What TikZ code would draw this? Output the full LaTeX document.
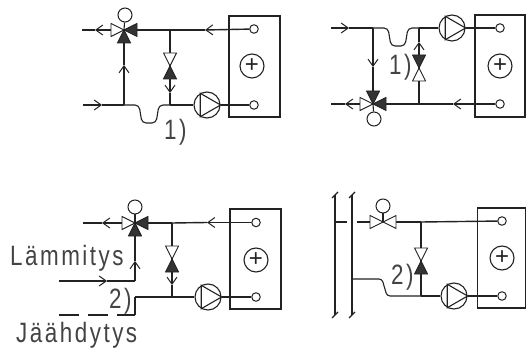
\documentclass[tikz,border=0pt]{standalone}
\usepackage{fontspec}
\setmainfont{Liberation Sans}
\newfontfamily\labelfont[FakeStretch=0.8,LetterSpace=9]{Liberation Sans}
\usetikzlibrary{arrows.meta}
\definecolor{ink}{HTML}{222222}
\definecolor{darkwedge}{HTML}{333333}
\tikzset{
   pipe/.style={line width=1.4pt, color=ink},
   heavypipe/.style={line width=2pt, color=ink},
   thinpipe/.style={line width=1.1pt, color=ink},
   flowpipe/.style={pipe, -{Straight Barb[length=7pt,width=10pt,line width=1pt]}},
   flowthin/.style={thinpipe, -{Straight Barb[length=7pt,width=10pt,line width=1pt]}},
   port/.style={draw=ink, line width=1pt, circle, fill=white, inner sep=0pt, minimum size=8.5pt},
   actuator/.style={draw=ink, line width=1pt, circle, fill=white, inner sep=0pt, minimum size=14pt},
   pump/.style={draw=ink, line width=1.1pt, circle, fill=white, inner sep=0pt, minimum size=26pt},
   plusmark/.style={draw=ink, line width=1.1pt, circle, inner sep=0pt, minimum size=24pt, text=ink, font=\fontsize{24}{24}\selectfont},
   unitbox/.style={draw=ink, line width=1.1pt, inner sep=0pt},
   label/.style={text=ink!85, inner sep=0pt, anchor=base west, font=\labelfont\fontsize{28}{32}\selectfont}
}
\begin{document}
\begin{tikzpicture}[x=1pt, y=-1pt]
   \useasboundingbox (0,0) rectangle (526,352);
   \def \Joints {
      av/124/30, al/82/30, at1/95/30, at2/205/30, aj/170/30, ab/170/105, ac/124/105,
      ai/83/105, at3/102/105, at4/124/65, at5/170/93,
      bv/373/104, bl/331/104, bt1/345/104, bt2/453/104, bj/419/104, bb/419/28, bc/373/28,
      bi/331/28, bt3/349/28, bt4/373/67, bt5/419/42,
      cv/135/223, cl/83/223, ct1/102/223, ct2/207/222.5, cj/172/223, cb/172/297, cc/135/297,
      cm/135/281, ci/59/281, ct3/107/281, ct4/135/261, ct5/172/285, cd/135/315, ce/59/315,
      dv/383/222, dj/421/222, db/421/296, dr/352/279,
      ds1/335/222, ds2/347/222, ds3/357/222,
      dw1/335/195, dw2/335/315, dw3/352/195, dw4/352/315}
   \def \Units {
      a/254.5/66.5/51/101/252/66,
      b/500/66/50/102/500/66,
      c/255.5/259/51/100/256/260,
      d/501.5/258/48.5/100/502/258}
   \def \Ports {
      ap1/254/29, ap2/254/105,
      bp1/500/28, bp2/500/104,
      cp1/256/222.5, cp2/256/297,
      dp1/502/221, dp2/502/296}
   \def \Pumps {
      ap/207/105,
      bp/452/28,
      cp/208/297,
      dp/454/296}
   \def \Actuators {
      ao/125/15/av,
      bo/374/119/bv,
      co/135/207/cv,
      do/383/206/dv}
   \foreach \u / \x / \y in \Joints {
      \coordinate (\u) at (\x, \y);
   }
   \foreach \u / \x / \y / \w / \h / \px / \py in \Units {
      \node[unitbox, minimum width=\w pt, minimum height=\h pt] (\u box) at (\x, \y) {};
      \node[plusmark] (\u plus) at (\px, \py) {+};
   }
   \foreach \u / \x / \y in \Ports {
      \node[port] (\u) at (\x, \y) {};
   }
   \foreach \u / \x / \y in \Pumps {
      \node[pump] (\u) at (\x, \y) {};
   }
   \foreach \u / \x / \y / \v in \Actuators {
      \node[actuator] (\u) at (\x, \y) {};
      \path[draw, thinpipe] (\u) -- (\v);
   }
   \def \Edges {
      ap1/at2/flowpipe, at2/aj/pipe, aj/av/heavypipe, av/at1/flowpipe, at1/al/heavypipe,
      ac/at4/flowpipe, at4/av/pipe, ai/at3/flowthin, at3/ac/thinpipe,
      aj/at5/flowpipe, at5/ab/heavypipe, ab/ap/thinpipe, ap/ap2/thinpipe,
      bp2/bt2/flowpipe, bt2/bj/heavypipe, bj/bv/heavypipe, bv/bt1/flowpipe, bt1/bl/heavypipe,
      bc/bt4/flowpipe, bt4/bv/pipe, bi/bt3/flowpipe, bt3/bc/pipe,
      bj/bt5/flowpipe, bt5/bb/heavypipe, bb/bp/thinpipe, bp/bp1/thinpipe,
      cp1/ct2/flowpipe, ct2/cj/pipe, cj/cv/pipe, cv/ct1/flowpipe, ct1/cl/pipe,
      cm/ct4/flowpipe, ct4/cv/pipe, ci/ct3/flowthin, ct3/cm/thinpipe,
      cj/ct5/flowpipe, ct5/cb/pipe, cc/cb/pipe, cb/cp/thinpipe, cp/cp2/thinpipe,
      ds1/ds2/pipe, ds3/dv/pipe, dv/dj/pipe, dj/dp1/pipe,
      dj/db/heavypipe, db/dp/thinpipe, dp/dp2/thinpipe,
      dw1/dw2/heavypipe, dw3/dw4/heavypipe}
   \foreach \u / \v / \s in \Edges {
      \path[draw, \s] (\u) -- (\v);
   }
   % bends in the return line
   \foreach \u / \v in {ac/ab, bc/bb} {
      \path[draw, thinpipe, rounded corners=4] (\u) -- ++(15,0) -- ++(3,18) -- ++(14,0) -- ++(3,-18) -- (\v);
   }
   \path[draw, thinpipe, rounded corners=3] (dr) -- ++(30,0) -- ++(5,17) -- (db);
   \path[draw, thinpipe, dash pattern=on 20pt off 9pt] (ce) -- (cd);
   \path[draw, thinpipe] (cd) -- (cc);
   % pipe ends at the walls
   \foreach \u in {dw1, dw2, dw3, dw4} {
      \path[draw, thinpipe] ([shift={(-3,3)}]\u) -- ([shift={(3,-3)}]\u);
   }
   \def \Wedges {
      124/30/180/white, 124/30/0/darkwedge, 124/30/270/darkwedge,
      170/66/90/white, 170/66/270/darkwedge,
      373/104/180/white, 373/104/0/darkwedge, 373/104/90/darkwedge,
      419/68/90/darkwedge, 419/68/270/white,
      135/223/180/white, 135/223/0/darkwedge, 135/223/270/darkwedge,
      172/259/90/white, 172/259/270/darkwedge,
      383/222/180/white, 383/222/0/white,
      421/261/90/white, 421/261/270/darkwedge}
   \foreach \x / \y / \a / \c in \Wedges {
      \path[draw=ink, line width=0.9pt, fill=\c, rotate around={\a:(\x, \y)}] (\x, \y) -- ++(13,6.5) -- ++(0,-13) -- cycle;
   }
   % pump impellers
   \foreach \u in {ap, bp, cp, dp} {
      \path[draw, thinpipe] (\u.120) -- (\u.0) -- (\u.240) -- cycle;
   }
   \node[label] (lone) at (164, 140) {1)};
   \node[label] (ltwo) at (389, 75) {1)};
   \node[label] (lthree) at (109, 308) {2)};
   \node[label] (lfour) at (391, 284) {2)};
   \node[label] (heat) at (10, 265) {Lämmitys};
   \node[label] (cool) at (16, 342) {Jäähdytys};
\end{tikzpicture}
\end{document}
